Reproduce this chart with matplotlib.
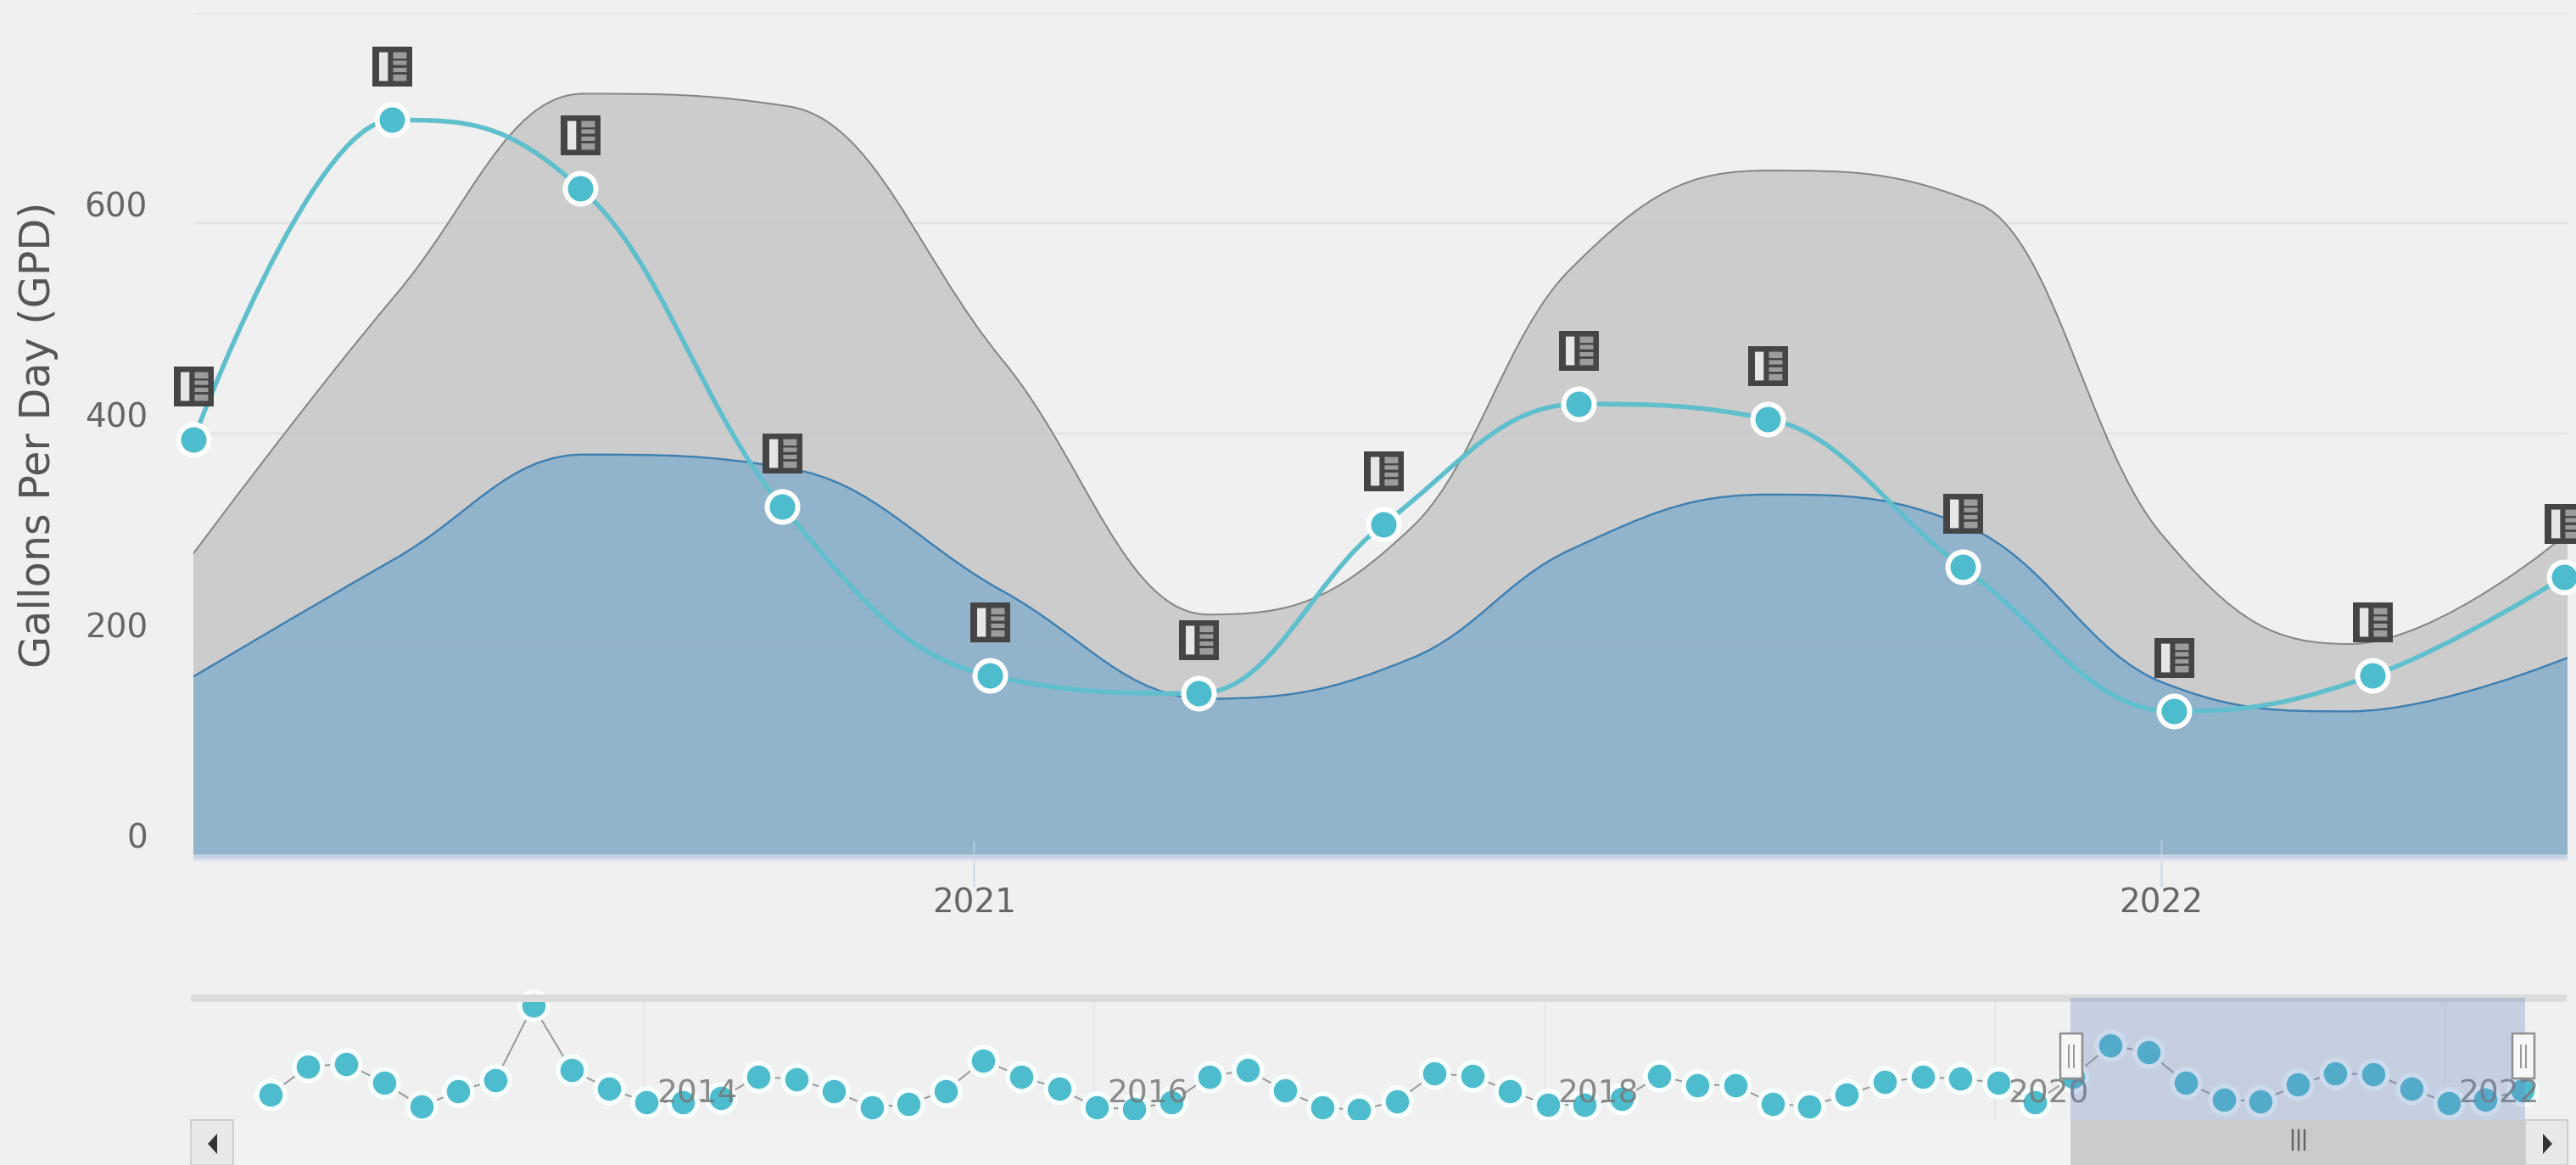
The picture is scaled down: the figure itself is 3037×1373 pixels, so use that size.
import numpy as np
import pandas as pd
import matplotlib
matplotlib.use('Agg')
import matplotlib.pyplot as plt
import matplotlib.dates as mdates
from matplotlib.path import Path
from matplotlib.patches import PathPatch, Rectangle, Polygon
from matplotlib.transforms import offset_copy

BG = '#f0f0f0'
FW, FH = 3037, 1373

# ---------- data ----------
line_dates = ['2020-05-06','2020-07-06','2020-09-02','2020-11-03','2021-01-06','2021-03-11','2021-05-07',
              '2021-07-06','2021-09-02','2021-11-01','2022-01-05','2022-03-07','2022-05-05']
line_values = [394,698,633,331,170,153,314,428,414,273,136,170,264]

band_dates = ['2020-05-06','2020-07-07','2020-09-03','2020-11-05','2021-01-10','2021-03-14','2021-05-16',
              '2021-07-03','2021-09-02','2021-11-07','2022-01-01','2022-02-28','2022-05-06']
band_upper = [286,531,723,711,469,228,312,555,650,617,305,200,305]
band_lower = [169,281,380,367,250,148,187,289,342,305,164,136,187]

y_ticks = [0,200,400,600,800]
y_tick_labels = ['0','200','400','600','']
x_ticks = ['2021-01-01','2022-01-01']
x_tick_labels = ['2021','2022']

nav_history = [221,491,519,337,100,254,359,1084,458,276,147,147,188,395,367,254,92,128,254,552,395,276,92,78,147,395,458,
               257,92,70,152,422,400,252,119,119,175,400,312,312,128,106,216,340,389,373,334,147]
nav_values = nav_history + line_values
nav_dates = pd.date_range('2012-05-01', periods=len(nav_values), freq='2MS') + pd.Timedelta(days=5)
nav_ticks = ['2014-01-01','2016-01-01','2018-01-01','2020-01-01','2022-01-01']
nav_tick_labels = ['2014','2016','2018','2020','2022']

def spline_path(x, y, smoothing=1.5, close_base=None):
    x = np.asarray(x, float); y = np.asarray(y, float)
    n = len(x)
    lc = np.zeros((n,2)); rc = np.zeros((n,2))
    for i in range(n):
        if i == 0 or i == n-1:
            lc[i] = rc[i] = (x[i], y[i]); continue
        lx = (smoothing*x[i]+x[i-1])/(smoothing+1)
        ly = (smoothing*y[i]+y[i-1])/(smoothing+1)
        rx = (smoothing*x[i]+x[i+1])/(smoothing+1)
        ry = (smoothing*y[i]+y[i+1])/(smoothing+1)
        corr = (ry-ly)*(rx-x[i])/(rx-lx) + y[i] - ry
        ly += corr; ry += corr
        if ly > y[i] and ly > y[i-1]:
            ly = max(y[i-1], y[i]); ry = 2*y[i]-ly
        elif ly < y[i] and ly < y[i-1]:
            ly = min(y[i-1], y[i]); ry = 2*y[i]-ly
        if ry > y[i] and ry > y[i+1]:
            ry = max(y[i+1], y[i]); ly = 2*y[i]-ry
        elif ry < y[i] and ry < y[i+1]:
            ry = min(y[i+1], y[i]); ly = 2*y[i]-ry
        lc[i] = (lx, ly); rc[i] = (rx, ry)
    v = [(x[0], y[0])]; c = [Path.MOVETO]
    for i in range(1, n):
        v += [tuple(rc[i-1]), tuple(lc[i]), (x[i], y[i])]
        c += [Path.CURVE4]*3
    if close_base is not None:
        v += [(x[-1], close_base), (x[0], close_base), (x[0], y[0])]
        c += [Path.LINETO, Path.LINETO, Path.CLOSEPOLY]
    return Path(v, c)

px = 72/100  # points per pixel at dpi 100
fig = plt.figure(figsize=(FW/100, FH/100), dpi=100, facecolor=BG)
plt.rcParams['font.family'] = 'DejaVu Sans'

def axes_px(l, t, r, b, **kw):
    return fig.add_axes([l/FW, 1-b/FH, (r-l)/FW, (b-t)/FH], **kw)

# ---------- main chart ----------
ax = axes_px(228, 15, 3027, 1007, facecolor=BG)
ax.set_xlim(mdates.date2num(pd.Timestamp('2020-05-06')), mdates.date2num(pd.Timestamp('2022-05-06')))
ax.set_ylim(0, 800)
for s in ax.spines.values():
    s.set_visible(False)

ln = mdates.date2num(pd.to_datetime(line_dates))
bn = mdates.date2num(pd.to_datetime(band_dates))
xt = mdates.date2num(pd.to_datetime(x_ticks))

ax.add_patch(PathPatch(spline_path(bn, band_upper, close_base=0), fc='#cccccc', ec='none', zorder=2))
ax.add_patch(PathPatch(spline_path(bn, band_upper), fc='none', ec='#858585', lw=2*px, zorder=2.1))
ax.add_patch(PathPatch(spline_path(bn, band_lower, close_base=0), fc='#91b3cc', ec='none', zorder=2.2))
ax.add_patch(PathPatch(spline_path(bn, band_lower), fc='none', ec='#3f80b0', lw=2.4*px, zorder=2.3))

ax.set_yticks(y_ticks, y_tick_labels)
ax.set_xticks(xt, x_tick_labels)
ax.set_axisbelow(True)
ax.grid(axis='y', color='#e9e9e9', lw=2.5*px)
ax.hlines(y_ticks, ax.get_xlim()[0], ax.get_xlim()[1], color='#bbbbbb', lw=2.5*px, alpha=0.1, zorder=2.5)
ax.vlines(xt, 0, 14, color='#a8c4d8', lw=3*px, zorder=2.6)
ax.tick_params(axis='y', length=0, pad=54*px, labelsize=28, labelcolor='#666666')
for t in ax.get_yticklabels():
    t.set_va('bottom')
ax.tick_params(axis='x', length=38*px, width=3*px, color='#d6dee6', pad=0, labelsize=28, labelcolor='#666666')

fig.text(45/FW, 1-512/FH, 'Gallons Per Day (GPD)', rotation=90, ha='center', va='center',
         fontsize=35.5, color='#555555')

ax.add_patch(PathPatch(spline_path(ln, line_values), fc='none', ec='#5fbfcc', lw=5.5*px, zorder=3))
ax.plot(ln, line_values, ls='none', marker='o', ms=36*px, mfc='#4dbccd', mec='white', mew=6*px,
        zorder=4, clip_on=False)

# flag icons above each point
def rect(x0, y0, x1, y1):
    return [(x0,y0),(x1,y0),(x1,y1),(x0,y1),(x0,y0)], [Path.MOVETO]+[Path.LINETO]*3+[Path.CLOSEPOLY]
def compound(rs):
    # the zero-area diagonal fixes the marker's scale so all layers share one extent
    v, c = [(-.5,-.5),(.5,.5)], [Path.MOVETO, Path.LINETO]
    for r in rs:
        a, b = rect(*r); v += a; c += b
    return Path(v, c)
icon_bg = compound([(-.5,-.5,.5,.5)])
icon_bar = compound([(-.33,-.36,-.11,.36)])
icon_rows = compound([(.02,.2,.36,.36),(.02,.04,.36,.15),(.02,-.14,.36,-.03),(.02,-.36,.36,-.2)])
tr = offset_copy(ax.transData, fig=fig, x=0, y=63, units='dots')
for path, col, z in [(icon_bg,'#454545',5),(icon_bar,'#e6e6e6',5.1),(icon_rows,'#9c9c9c',5.2)]:
    ax.plot(ln, line_values, ls='none', marker=path, ms=47*px, mfc=col, mec='none', mew=0,
            transform=tr, zorder=z, clip_on=False)

# ---------- navigator ----------
nav = axes_px(225, 1176, 3026, 1320, facecolor='none')
nav.set_xlim(mdates.date2num(pd.Timestamp('2012-01-01')) - 3, mdates.date2num(pd.Timestamp('2022-07-18')) - 2)
nav.set_ylim(-29, 1161)
nav.set_yticks([])
for s in nav.spines.values():
    s.set_visible(False)
nn = mdates.date2num(nav_dates)
nt = mdates.date2num(pd.to_datetime(nav_ticks))
nav.set_xticks(nt, [''] * len(nt))
nav.tick_params(axis='x', length=0)
nav.vlines(nt, -29, 1161, color='#e6e6e6', lw=2*px, zorder=1)
nav.plot(nn, nav_values, color='#9a9a9a', lw=2*px, zorder=2, clip_on=False)
nav.plot(nn, nav_values, ls='none', marker='o', ms=33*px, mfc='#4dbccd', mec='#f8ffff', mew=5.5*px,
         zorder=3, clip_on=False)
for d, lab in zip(nt, nav_tick_labels):
    nav.annotate(lab, (d, 0.215), xytext=(63, 0), textcoords='offset pixels', xycoords=('data','axes fraction'),
                 ha='center', va='center', fontsize=27, color='#777777', alpha=0.85, zorder=4,
                 annotation_clip=False)

# ---------- scroller / mask chrome ----------
ch = fig.add_axes([0, 0, 1, 1], facecolor='none')
ch.set_xlim(0, FW); ch.set_ylim(FH, 0); ch.axis('off')
nav.set_zorder(2); ch.set_zorder(3)
ch.add_patch(Rectangle((228, 1007), 2799, 5, fc='#c4d4e4', ec='none', zorder=0))
ch.add_patch(Rectangle((228, 1012), 2799, 3, fc='#e2e2ee', ec='none', zorder=0))
ch.add_patch(Rectangle((225, 1172), 2801, 9, fc='#dcdcdc', ec='none', zorder=0))
ch.add_patch(Rectangle((2441, 1176), 536, 144, fc=(102/255,133/255,194/255,0.3), ec='none', zorder=1))
ch.add_patch(Rectangle((225, 1320), 2801, 53, fc='#f2f2f2', ec='none', zorder=1))
ch.add_patch(Rectangle((2441, 1320), 536, 53, fc='#cbcbcb', ec='none', zorder=2))
for xx in (2703, 2710, 2717):
    ch.plot([xx, xx], [1332, 1355], color='#666666', lw=2.5*px, zorder=3)
for x0 in (225, 2977):
    ch.add_patch(Rectangle((x0, 1320), 50, 53, fc='#e8e8e8', ec='#cfcfcf', lw=2*px, zorder=2))
ch.add_patch(Polygon([(245,1348),(256,1336),(256,1360)], fc='#333333', ec='none', zorder=3))
ch.add_patch(Polygon([(3009,1348),(2998,1336),(2998,1360)], fc='#333333', ec='none', zorder=3))
for xc in (2442, 2975):
    ch.add_patch(Rectangle((xc-13, 1218), 26, 53, fc='#f7f7f7', ec='#8f8f8f', lw=2.5*px, zorder=4))
    for dx in (-3, 3):
        ch.plot([xc+dx, xc+dx], [1232, 1258], color='#9a9a9a', lw=2*px, zorder=5)

fig.savefig('out.png', dpi=100, facecolor=BG)
